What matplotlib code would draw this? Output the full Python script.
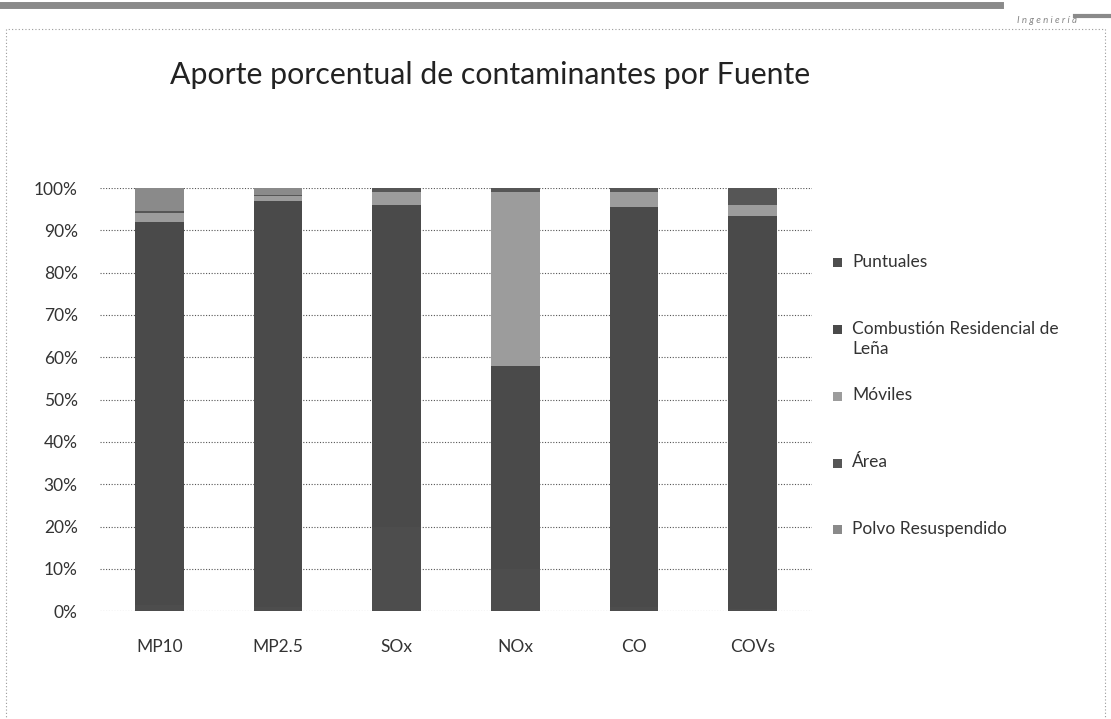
import matplotlib.pyplot as plt
from matplotlib.patches import Rectangle
from matplotlib.lines import Line2D
import numpy as np

plt.rcParams['font.family'] = ['Lato', 'DejaVu Sans']

# --- datos (porcentaje por fuente) ---
CATEGORIAS = ["MP10", "MP2.5", "SOx", "NOx", "CO", "COVs"]
PUNTUALES = [1.5, 1.0, 20.0, 10.0, 1.0, 0.5]
COMBUSTION = [90.5, 96.0, 76.0, 48.0, 94.5, 93.0]
MOVILES = [2.0, 1.0, 3.0, 41.0, 3.5, 2.5]
AREA = [0.5, 0.3, 1.0, 1.0, 1.0, 4.0]
POLVO = [5.5, 1.7, 0.0, 0.0, 0.0, 0.0]

SERIES = [
    ("Puntuales", PUNTUALES, "#4d4d4d"),
    ("Combustión Residencial de\nLeña", COMBUSTION, "#4a4a4a"),
    ("Móviles", MOVILES, "#9c9c9c"),
    ("Área", AREA, "#565656"),
    ("Polvo Resuspendido", POLVO, "#8a8a8a"),
]
YTICKS = [0, 10, 20, 30, 40, 50, 60, 70, 80, 90, 100]

W, H = 1111, 719
fig = plt.figure(figsize=(W / 100, H / 100), dpi=100)

# marco del diapositivo (escaneo)
fig.add_artist(Line2D([0.0, 0.9], [0.993, 0.993], transform=fig.transFigure,
                      color="#8a8a8a", lw=5))
fig.add_artist(Line2D([0.968, 1.0], [0.978, 0.978], transform=fig.transFigure,
                      color="#8a8a8a", lw=3))
fig.add_artist(Rectangle((0.005, -0.01), 0.99, 0.97, transform=fig.transFigure,
                         fill=False, ls=(0, (1, 2)), lw=0.8, ec="#9a9a9a"))
fig.text(0.915, 0.972, "I n g e n i e r í a", fontsize=7, color="#888888",
         ha="left", va="center", style="italic")

fig.text(0.441, 0.896, "Aporte porcentual de contaminantes por Fuente",
         ha="center", va="center", fontsize=21.8, color="#222222")

ax = fig.add_axes([0.090, 0.150, 0.641, 0.5885])
x = np.arange(len(CATEGORIAS))
bottom = np.zeros(len(CATEGORIAS))
for name, vals, color in SERIES:
    ax.bar(x, vals, width=0.41, bottom=bottom, color=color,
           linewidth=0, zorder=3)
    bottom += np.array(vals)

ax.set_xlim(-0.5, len(CATEGORIAS) - 0.5)
ax.set_ylim(0, 100)
ax.set_yticks(YTICKS)
ax.set_yticklabels([f"{v}%" for v in YTICKS])
ax.set_xticks(x)
ax.set_xticklabels(CATEGORIAS)
ax.tick_params(axis="y", length=0, pad=16, labelsize=12.5, labelcolor="#333333")
ax.tick_params(axis="x", length=0, pad=20, labelsize=12.5, labelcolor="#333333")
ax.grid(axis="y", ls=(0, (1, 1.5)), color="#555555", lw=0.8, zorder=0)
for s in ax.spines.values():
    s.set_visible(False)

# leyenda a la derecha
y0, step = 1 - 263 / H, 66.7 / H
for i, (name, vals, color) in enumerate(SERIES):
    yy = y0 - i * step
    fig.add_artist(Rectangle((833 / W, yy - 4.5 / H), 9 / W, 9 / H,
                             transform=fig.transFigure, color=color, lw=0))
    fig.text(852 / W, yy + 9 / H, name, ha="left", va="top", fontsize=12.5,
             color="#333333", linespacing=1.35)

fig.savefig("out.png", dpi=100)
